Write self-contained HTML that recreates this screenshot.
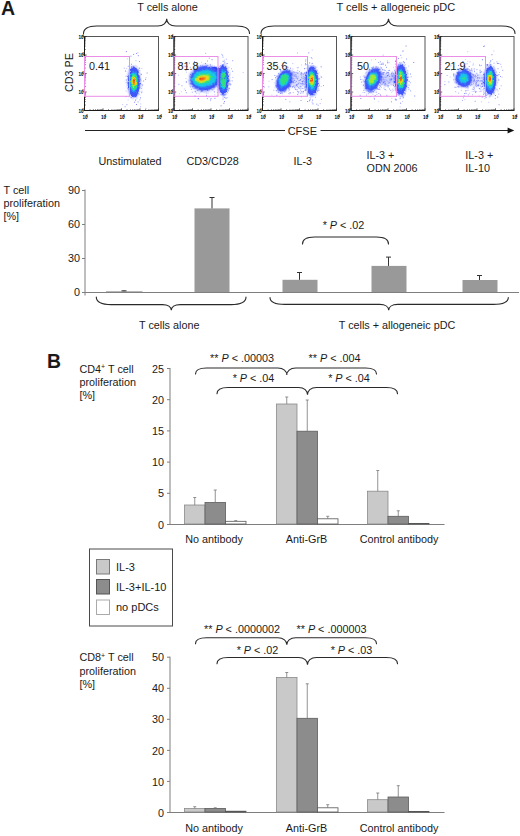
<!DOCTYPE html>
<html lang="en"><head><meta charset="utf-8"><title>Figure</title>
<style>
html,body{margin:0;padding:0;background:#fff;}
body{width:520px;height:836px;overflow:hidden;}
svg{display:block;font-family:"Liberation Sans", Arial, Helvetica, sans-serif;}
text{fill:#1a1a1a;}
.t11{font-size:10.8px;}
.num{font-size:10.6px;}
.tk{font-size:4.6px;fill:#000;font-weight:bold;}
.ax{stroke:#7f7f7f;stroke-width:1;fill:none;}
.br{stroke:#2a2a2a;stroke-width:1.1;fill:none;stroke-linecap:round;}
.gate{stroke:#ea8ee8;stroke-width:1;fill:none;}
.box{stroke:#555;stroke-width:1;fill:none;}
.eb{stroke:#333;stroke-width:1;fill:none;}
.ebg{stroke:#777;stroke-width:0.8;fill:none;}
</style></head><body>
<svg width="520" height="836" viewBox="0 0 520 836">
<defs>
<filter id="b1" x="-50%" y="-50%" width="200%" height="200%"><feGaussianBlur stdDeviation="0.65" result="bl"/><feTurbulence type="fractalNoise" baseFrequency="0.42" numOctaves="2" seed="3" result="n"/><feDisplacementMap in="bl" in2="n" scale="3.2" xChannelSelector="R" yChannelSelector="G"/></filter>
<filter id="b2" x="-50%" y="-50%" width="200%" height="200%"><feGaussianBlur stdDeviation="0.8"/></filter>
<filter id="b3" x="-50%" y="-50%" width="200%" height="200%"><feGaussianBlur stdDeviation="1.3" result="bl"/><feTurbulence type="fractalNoise" baseFrequency="0.5" numOctaves="2" seed="8" result="n"/><feDisplacementMap in="bl" in2="n" scale="4" xChannelSelector="R" yChannelSelector="G"/></filter>
</defs>
<rect width="520" height="836" fill="#fff"/>

<text x="0.9" y="15.3" font-size="19.5" font-weight="bold" fill="#000">A</text>
<text x="46.9" y="367.5" font-size="19.4" font-weight="bold" fill="#000">B</text>
<path class="br" d="M83.5,33.5 C83.5,28.85 88.05,26 96.5,26 L157.7,26 C163.55,26 166.7,22.76 166.7,18.8 C166.7,22.76 169.85,26 175.7,26 L236.5,26 C244.95,26 249.5,28.85 249.5,33.5"/>
<path class="br" d="M261,33.5 C261,28.85 265.55,26 274,26 L379.5,26 C385.35,26 388.5,22.76 388.5,18.8 C388.5,22.76 391.65,26 397.5,26 L502,26 C510.45,26 515,28.85 515,33.5"/>
<text x="167.5" y="11" class="t11" text-anchor="middle" >T cells alone</text>
<text x="395.8" y="11" class="t11" text-anchor="middle" style="font-size:11px">T cells + allogeneic pDC</text>
<clipPath id="cp0"><rect x="85.0" y="37.0" width="73" height="73.0"/></clipPath><g clip-path="url(#cp0)">
<path d="M129.7,81.5h.9M129.9,89.5h.9M137.6,93.7h.9M134.9,90.7h.9M131.1,67.0h.9M130.5,56.2h.9M134.2,102.2h.9M131.2,85.8h.9M128.2,83.0h.9M125.0,71.1h.9M138.0,71.8h.9M139.2,68.2h.9M128.9,89.4h.9M135.4,89.6h.9M130.9,86.2h.9M131.0,74.0h.9M131.8,90.0h.9M142.2,85.0h.9M136.6,74.1h.9M131.8,91.7h.9M145.2,79.3h.9M133.2,54.4h.9M135.0,100.1h.9M131.6,66.7h.9M136.2,53.5h.9M134.7,73.8h.9M125.7,96.6h.9M140.1,97.9h.9M137.8,55.7h.9M125.9,51.6h.9M137.6,82.8h.9M140.8,74.3h.9M136.1,104.5h.9" stroke="#2a2af0" stroke-width="0.9" opacity="0.7" fill="none"/>
<path d="M129.9,79.7h.9M134.8,94.6h.9M127.8,66.3h.9M132.5,95.7h.9M136.2,69.0h.9M137.6,101.9h.9M129.5,93.2h.9M137.8,72.2h.9M133.1,66.9h.9M139.0,77.4h.9M133.2,90.2h.9M130.1,84.3h.9M134.4,71.8h.9M126.5,104.7h.9M127.6,83.5h.9M124.7,106.7h.9M125.8,80.0h.9M137.8,75.0h.9M130.2,89.4h.9M132.2,88.5h.9M135.7,88.2h.9M136.9,87.5h.9M143.2,81.0h.9M137.5,70.1h.9M146.7,73.0h.9M138.9,78.4h.9M139.1,61.5h.9M130.5,97.0h.9M130.7,92.8h.9" stroke="#3b4cff" stroke-width="0.9" opacity="0.7" fill="none"/>
<path d="M130.8,97.5h.9M138.4,84.7h.9M129.8,75.9h.9M145.4,108.4h.9M123.8,68.1h.9M130.1,83.6h.9M131.3,87.7h.9M136.2,69.6h.9M131.3,78.0h.9M131.1,64.2h.9M141.2,88.4h.9M130.5,94.0h.9M129.1,84.6h.9M136.5,86.8h.9M140.1,106.8h.9M136.8,91.4h.9M135.8,90.2h.9M135.5,60.7h.9M137.3,83.6h.9M137.5,83.6h.9M140.4,80.8h.9M135.5,93.4h.9M141.2,92.7h.9M133.9,67.3h.9M136.5,93.9h.9M139.4,99.9h.9M140.1,79.1h.9M133.9,91.8h.9" stroke="#6674ff" stroke-width="0.9" opacity="0.7" fill="none"/>
<path d="M141.5,91.3h.9M137.0,87.0h.9M130.2,86.7h.9M145.6,77.6h.9M129.6,78.7h.9M128.6,86.0h.9M140.6,86.2h.9M125.9,68.6h.9M132.6,71.5h.9M126.9,58.8h.9M136.0,91.1h.9M136.0,87.6h.9M141.4,92.4h.9M137.5,73.9h.9M140.2,103.9h.9M137.5,52.6h.9M139.4,87.6h.9M136.2,91.2h.9M136.6,75.3h.9M130.0,73.6h.9M127.7,99.9h.9M125.6,76.2h.9M137.8,80.7h.9M129.6,93.9h.9M134.7,95.5h.9M141.4,68.5h.9M135.1,72.8h.9M122.2,104.5h.9M125.6,91.1h.9M128.5,73.8h.9" stroke="#9a9cff" stroke-width="0.9" opacity="0.7" fill="none"/>
<ellipse transform="rotate(0 133.9 82)" filter="url(#b3)" cx="133.9" cy="82" rx="6.72" ry="16.50" fill="#4a5cff" opacity="0.55"/><ellipse transform="rotate(0 133.9 82)" filter="url(#b2)" cx="133.9" cy="82" rx="4.44" ry="11.70" fill="#3348fa"/><g transform="rotate(0 133.9 82)" filter="url(#b1)"><ellipse cx="133.90" cy="82.00" rx="6.00" ry="15.00" fill="#3f55fa"/><ellipse cx="133.90" cy="81.74" rx="4.44" ry="11.10" fill="#2a86f4"/><ellipse cx="133.90" cy="81.62" rx="3.72" ry="9.30" fill="#19c8e6"/><ellipse cx="133.90" cy="81.50" rx="3.00" ry="7.50" fill="#2fe07a"/><ellipse cx="133.90" cy="81.39" rx="2.34" ry="5.85" fill="#a6ea2e"/><ellipse cx="133.90" cy="81.29" rx="1.74" ry="4.35" fill="#f2d21c"/><ellipse cx="133.90" cy="81.20" rx="1.20" ry="3.00" fill="#f48a18"/><ellipse cx="133.90" cy="81.11" rx="0.66" ry="1.65" fill="#ee3312"/></g>
</g>
<rect class="box" x="84.5" y="36.5" width="74" height="74.0"/>
<path d="M84.5,110.5h2.2M84.5,110.5v-2.2M84.5,105.0h1.2M90.0,110.5v-1.2M84.5,101.6h1.2M93.4,110.5v-1.2M84.5,99.4h1.2M95.6,110.5v-1.2M84.5,97.5h1.2M97.5,110.5v-1.2M84.5,96.1h1.2M98.9,110.5v-1.2M84.5,94.8h1.2M100.2,110.5v-1.2M84.5,93.8h1.2M101.2,110.5v-1.2M84.5,92.9h1.2M102.1,110.5v-1.2M84.5,92.0h2.2M103.0,110.5v-2.2M84.5,86.5h1.2M108.5,110.5v-1.2M84.5,83.1h1.2M111.9,110.5v-1.2M84.5,80.9h1.2M114.1,110.5v-1.2M84.5,79.0h1.2M116.0,110.5v-1.2M84.5,77.6h1.2M117.4,110.5v-1.2M84.5,76.3h1.2M118.7,110.5v-1.2M84.5,75.3h1.2M119.7,110.5v-1.2M84.5,74.4h1.2M120.6,110.5v-1.2M84.5,73.5h2.2M121.5,110.5v-2.2M84.5,68.0h1.2M127.0,110.5v-1.2M84.5,64.6h1.2M130.4,110.5v-1.2M84.5,62.4h1.2M132.6,110.5v-1.2M84.5,60.5h1.2M134.4,110.5v-1.2M84.5,59.1h1.2M135.9,110.5v-1.2M84.5,57.8h1.2M137.2,110.5v-1.2M84.5,56.8h1.2M138.2,110.5v-1.2M84.5,55.9h1.2M139.1,110.5v-1.2M84.5,55.0h2.2M140.0,110.5v-2.2M84.5,49.5h1.2M145.6,110.5v-1.2M84.5,46.1h1.2M148.9,110.5v-1.2M84.5,43.9h1.2M151.1,110.5v-1.2M84.5,42.0h1.2M152.9,110.5v-1.2M84.5,40.6h1.2M154.4,110.5v-1.2M84.5,39.3h1.2M155.7,110.5v-1.2M84.5,38.3h1.2M156.7,110.5v-1.2M84.5,37.4h1.2M157.6,110.5v-1.2M84.5,36.5h2.2M158.5,110.5v-2.2" stroke="#222" stroke-width="0.7" fill="none"/>
<path d="M84.5,36.5V110.5H158.5" stroke="#1a1a1a" stroke-width="1" fill="none"/>
<text class="tk" x="83.7" y="112.7" text-anchor="end">10<tspan dx="-1.5" dy="-2" style="font-size:2.8px">0</tspan></text>
<text class="tk" x="85.1" y="119.1" text-anchor="middle">10<tspan dx="-1.5" dy="-2" style="font-size:2.8px">0</tspan></text>
<text class="tk" x="83.7" y="94.2" text-anchor="end">10<tspan dx="-1.5" dy="-2" style="font-size:2.8px">1</tspan></text>
<text class="tk" x="103.6" y="119.1" text-anchor="middle">10<tspan dx="-1.5" dy="-2" style="font-size:2.8px">1</tspan></text>
<text class="tk" x="83.7" y="75.7" text-anchor="end">10<tspan dx="-1.5" dy="-2" style="font-size:2.8px">2</tspan></text>
<text class="tk" x="122.1" y="119.1" text-anchor="middle">10<tspan dx="-1.5" dy="-2" style="font-size:2.8px">2</tspan></text>
<text class="tk" x="83.7" y="57.2" text-anchor="end">10<tspan dx="-1.5" dy="-2" style="font-size:2.8px">3</tspan></text>
<text class="tk" x="140.6" y="119.1" text-anchor="middle">10<tspan dx="-1.5" dy="-2" style="font-size:2.8px">3</tspan></text>
<text class="tk" x="83.7" y="38.7" text-anchor="end">10<tspan dx="-1.5" dy="-2" style="font-size:2.8px">4</tspan></text>
<text class="tk" x="159.1" y="119.1" text-anchor="middle">10<tspan dx="-1.5" dy="-2" style="font-size:2.8px">4</tspan></text>
<rect class="gate" x="84.5" y="56.5" width="45.0" height="39.8"/>
<text x="89.0" y="69.9" class="t11" text-anchor="start" >0.41</text>
<clipPath id="cp1"><rect x="174.5" y="37.0" width="73" height="73.0"/></clipPath><g clip-path="url(#cp1)">
<path d="M210.0,84.2h.9M197.7,77.4h.9M216.1,85.9h.9M214.2,73.9h.9M215.5,78.8h.9M204.5,70.7h.9M198.8,71.6h.9M213.8,78.5h.9M209.9,64.8h.9M216.3,80.3h.9M195.1,82.0h.9M190.1,83.9h.9M199.6,85.6h.9M197.8,78.6h.9M208.8,58.2h.9M204.5,68.0h.9M195.6,77.5h.9M216.3,77.0h.9M209.6,74.1h.9M207.7,76.1h.9M200.2,84.8h.9M198.0,98.7h.9M201.5,84.7h.9M221.9,80.1h.9M194.6,91.3h.9M212.4,74.6h.9M223.6,94.3h.9M200.9,68.5h.9M207.9,78.1h.9" stroke="#2a2af0" stroke-width="0.9" opacity="0.6" fill="none"/>
<path d="M199.1,83.7h.9M191.9,83.0h.9M218.9,86.3h.9M203.2,80.0h.9M194.0,83.6h.9M208.8,72.3h.9M221.7,72.6h.9M227.3,71.7h.9M194.9,91.9h.9M223.1,87.8h.9M226.5,89.9h.9M205.2,81.6h.9M201.6,80.4h.9M215.0,76.5h.9M195.3,65.4h.9M208.6,71.4h.9M209.1,67.3h.9M210.3,78.4h.9M218.0,77.5h.9M219.1,81.6h.9M213.4,78.0h.9M211.6,73.2h.9M197.6,98.6h.9M207.1,61.0h.9M216.7,82.0h.9M190.9,89.3h.9M207.1,80.2h.9M224.3,74.4h.9M191.8,92.2h.9M209.4,86.3h.9M207.1,80.2h.9M203.1,76.1h.9M199.9,76.2h.9" stroke="#3b4cff" stroke-width="0.9" opacity="0.6" fill="none"/>
<path d="M217.9,81.4h.9M216.9,92.6h.9M192.1,84.2h.9M199.7,85.7h.9M196.2,93.2h.9M226.7,77.3h.9M190.0,87.0h.9M209.2,86.3h.9M193.4,80.2h.9M218.5,75.0h.9M223.9,84.1h.9M199.6,79.7h.9M190.5,85.9h.9M224.0,80.8h.9M207.4,88.9h.9M212.1,86.1h.9M195.0,84.1h.9M223.7,71.4h.9M221.9,93.3h.9M200.5,86.5h.9M225.6,80.0h.9M220.9,68.0h.9M210.9,79.5h.9M191.9,83.7h.9M211.2,74.4h.9" stroke="#6674ff" stroke-width="0.9" opacity="0.6" fill="none"/>
<path d="M225.2,79.5h.9M201.0,75.0h.9M190.7,80.0h.9M210.9,83.4h.9M225.5,88.4h.9M201.1,85.8h.9M207.5,84.8h.9M200.0,87.3h.9M199.3,78.3h.9M197.6,81.5h.9M204.8,63.9h.9M202.4,84.5h.9M217.5,79.6h.9M214.4,94.6h.9M220.6,79.6h.9M221.4,65.4h.9M216.0,71.5h.9M203.7,92.0h.9M211.2,89.3h.9M213.9,71.5h.9M217.7,82.8h.9M215.5,82.4h.9M190.7,77.4h.9M226.2,87.6h.9M208.5,97.0h.9M202.0,85.7h.9M201.0,74.4h.9M228.0,85.7h.9M200.9,89.1h.9M197.2,66.0h.9M225.7,67.0h.9M217.8,77.5h.9M227.1,92.5h.9" stroke="#9a9cff" stroke-width="0.9" opacity="0.6" fill="none"/>
<g filter="url(#b1)"><ellipse cx="213" cy="74" rx="10" ry="7" fill="#2431ee" transform="rotate(-8 213 74)"/></g>
<path d="M223.6,68.5h.9M222.6,99.0h.9M226.4,81.3h.9M219.9,83.0h.9M226.6,85.2h.9M220.6,77.1h.9M221.5,89.3h.9M218.5,83.0h.9M224.9,66.7h.9M219.3,71.5h.9M221.8,69.5h.9M225.1,87.5h.9M219.2,86.0h.9M228.2,79.0h.9M220.6,105.8h.9M222.8,95.8h.9M219.7,83.9h.9M225.8,75.2h.9M223.4,103.3h.9M226.1,85.9h.9M223.9,97.4h.9M226.0,72.5h.9M224.0,101.6h.9M229.2,84.0h.9M225.6,73.9h.9M214.5,98.3h.9M222.7,61.4h.9" stroke="#2a2af0" stroke-width="0.9" opacity="0.7" fill="none"/>
<path d="M232.3,60.7h.9M220.1,74.1h.9M220.4,68.9h.9M217.3,77.4h.9M226.9,63.6h.9M228.7,88.3h.9M226.7,71.4h.9M222.1,88.3h.9M222.5,57.1h.9M223.2,89.8h.9M219.1,68.5h.9M232.2,71.3h.9M228.9,80.9h.9M219.1,89.4h.9M218.5,76.2h.9M225.2,86.3h.9M222.2,94.5h.9M225.2,75.0h.9M225.2,69.4h.9M225.6,98.1h.9M231.7,80.9h.9M220.9,72.5h.9M222.2,55.2h.9M230.3,84.0h.9M218.7,77.3h.9M227.7,79.1h.9M223.5,71.7h.9M224.8,66.6h.9M227.6,75.3h.9M226.4,89.6h.9" stroke="#3b4cff" stroke-width="0.9" opacity="0.7" fill="none"/>
<path d="M226.4,83.3h.9M225.5,94.8h.9M225.5,98.0h.9M226.5,83.9h.9M231.0,68.8h.9M225.9,59.2h.9M224.2,69.0h.9M218.5,83.3h.9M223.7,71.7h.9M223.2,91.1h.9M220.4,74.1h.9M213.0,124.8h.9M230.3,84.8h.9M225.9,63.8h.9M217.7,89.8h.9M220.9,84.1h.9M220.2,68.2h.9M221.4,70.9h.9M223.1,71.0h.9M225.9,86.5h.9M228.2,89.0h.9M224.4,71.3h.9M225.1,89.8h.9" stroke="#6674ff" stroke-width="0.9" opacity="0.7" fill="none"/>
<path d="M228.5,67.6h.9M218.5,69.0h.9M216.6,67.2h.9M227.7,90.9h.9M222.7,70.9h.9M225.5,85.3h.9M224.0,61.9h.9M222.0,68.7h.9M228.3,75.7h.9M225.8,82.1h.9M222.2,89.5h.9M227.6,89.8h.9M221.2,54.4h.9M226.2,75.0h.9M218.6,80.3h.9M212.9,87.2h.9M224.6,62.1h.9M227.2,97.6h.9M217.4,81.9h.9M228.1,90.6h.9M227.3,85.6h.9M218.9,77.0h.9M222.7,88.1h.9M220.3,81.9h.9M225.3,92.0h.9M229.1,88.7h.9M224.3,69.8h.9M218.4,89.0h.9M223.8,67.9h.9M225.3,91.2h.9" stroke="#9a9cff" stroke-width="0.9" opacity="0.7" fill="none"/>
<ellipse transform="rotate(0 223.2 80)" filter="url(#b3)" cx="223.2" cy="80" rx="5.82" ry="15.95" fill="#4a5cff" opacity="0.55"/><ellipse transform="rotate(0 223.2 80)" filter="url(#b2)" cx="223.2" cy="80" rx="3.85" ry="11.31" fill="#3348fa"/><g transform="rotate(0 223.2 80)" filter="url(#b1)"><ellipse cx="223.20" cy="80.00" rx="5.20" ry="14.50" fill="#3f55fa"/><ellipse cx="223.20" cy="80.00" rx="3.85" ry="10.73" fill="#2a86f4"/><ellipse cx="223.20" cy="80.00" rx="3.22" ry="8.99" fill="#19c8e6"/><ellipse cx="223.20" cy="80.00" rx="2.60" ry="7.25" fill="#2fe07a"/></g>
<path d="M207.4,65.5h.9M204.3,66.9h.9M203.2,70.4h.9M197.9,74.7h.9M214.1,76.8h.9M214.4,66.7h.9M217.2,76.9h.9M220.0,65.8h.9M196.9,84.9h.9M210.6,98.7h.9M207.0,71.8h.9M194.1,61.8h.9M181.6,65.4h.9M211.6,59.7h.9M223.9,78.4h.9M186.7,66.4h.9M200.8,90.4h.9M192.2,86.7h.9M200.1,67.7h.9M224.7,78.0h.9M209.4,83.9h.9M185.8,81.9h.9M206.3,66.9h.9M184.6,66.2h.9M210.5,72.6h.9M190.0,74.5h.9M219.9,72.5h.9M213.9,91.9h.9M195.1,71.6h.9M197.1,86.2h.9M195.9,64.9h.9M218.2,67.9h.9M197.3,65.7h.9" stroke="#2a2af0" stroke-width="0.9" opacity="0.7" fill="none"/>
<path d="M221.0,85.0h.9M193.9,70.6h.9M225.7,72.8h.9M201.1,91.2h.9M212.1,82.7h.9M181.5,85.7h.9M210.0,100.1h.9M211.2,85.2h.9M229.4,74.8h.9M197.8,81.6h.9M208.1,88.2h.9M221.7,78.8h.9M209.1,71.1h.9M196.1,83.3h.9M206.0,95.3h.9M211.6,75.0h.9M180.4,63.1h.9M200.2,65.9h.9M194.9,96.3h.9M217.6,69.0h.9M217.4,83.0h.9M204.5,85.3h.9M185.8,92.7h.9M198.4,89.6h.9M198.8,67.4h.9M218.3,76.1h.9M209.1,85.3h.9M178.4,84.3h.9M206.9,98.6h.9M198.4,67.6h.9M213.4,80.8h.9M208.6,84.8h.9M194.3,96.2h.9M188.9,63.1h.9M205.0,63.5h.9M215.4,67.5h.9M218.4,74.8h.9M185.4,70.3h.9M185.1,90.4h.9M208.1,87.1h.9M196.4,84.2h.9" stroke="#3b4cff" stroke-width="0.9" opacity="0.7" fill="none"/>
<path d="M219.6,75.2h.9M215.7,79.1h.9M218.3,76.1h.9M197.4,90.0h.9M209.1,89.0h.9M205.8,66.3h.9M192.9,69.2h.9M197.0,72.2h.9M209.2,85.1h.9M185.0,69.5h.9M220.8,79.6h.9M194.1,70.5h.9M202.2,65.8h.9M202.0,85.4h.9M193.9,62.1h.9M210.8,67.0h.9M218.6,88.4h.9M232.4,77.4h.9M212.7,83.8h.9M201.2,72.8h.9M223.8,60.2h.9M216.6,72.5h.9M209.3,67.4h.9M211.7,80.8h.9M218.5,73.2h.9M188.7,80.9h.9M214.2,81.3h.9M186.0,82.2h.9M196.9,90.6h.9M207.3,86.8h.9M207.0,88.6h.9M202.2,84.8h.9M206.2,71.2h.9M228.1,78.4h.9M205.2,53.3h.9M189.8,67.4h.9M193.0,83.6h.9M185.8,66.6h.9M194.5,72.6h.9" stroke="#6674ff" stroke-width="0.9" opacity="0.7" fill="none"/>
<path d="M178.1,75.2h.9M206.1,96.5h.9M200.8,84.3h.9M179.0,93.7h.9M207.4,85.0h.9M192.4,74.8h.9M196.0,73.2h.9M219.3,89.6h.9M183.9,89.0h.9M207.2,89.9h.9M219.2,76.7h.9M192.2,77.1h.9M212.2,71.1h.9M208.3,72.4h.9M201.1,62.3h.9M189.5,76.6h.9M210.6,72.2h.9M212.7,77.6h.9M215.7,66.5h.9M172.9,89.4h.9M180.9,91.7h.9M209.2,86.8h.9M194.9,71.8h.9M228.6,82.4h.9M186.1,72.2h.9M215.1,83.0h.9M209.8,71.6h.9M242.7,72.5h.9M212.8,74.3h.9M221.2,82.6h.9M214.2,69.3h.9M206.1,93.2h.9M195.8,88.6h.9M185.4,78.5h.9M204.1,72.1h.9M198.6,93.8h.9M202.5,67.8h.9M198.2,66.5h.9M209.7,69.8h.9M200.5,89.4h.9M217.6,95.7h.9M213.8,81.8h.9M189.5,81.0h.9M217.1,87.0h.9M192.5,86.7h.9M224.4,85.5h.9M207.6,93.2h.9" stroke="#9a9cff" stroke-width="0.9" opacity="0.7" fill="none"/>
<ellipse transform="rotate(-10 205 78.3)" filter="url(#b3)" cx="205" cy="78.3" rx="16.24" ry="13.20" fill="#4a5cff" opacity="0.55"/><ellipse transform="rotate(-10 205 78.3)" filter="url(#b2)" cx="205" cy="78.3" rx="10.73" ry="9.36" fill="#3348fa"/><g transform="rotate(-10 205 78.3)" filter="url(#b1)"><ellipse cx="205.00" cy="78.30" rx="14.50" ry="12.00" fill="#3f55fa"/><ellipse cx="204.60" cy="78.30" rx="13.05" ry="9.36" fill="#2a86f4"/><ellipse cx="204.32" cy="78.30" rx="12.04" ry="7.92" fill="#19c8e6"/><ellipse cx="203.48" cy="78.30" rx="8.99" ry="5.16" fill="#2fe07a"/><ellipse cx="203.00" cy="78.30" rx="7.25" ry="3.84" fill="#a6ea2e"/><ellipse cx="202.60" cy="78.30" rx="5.80" ry="2.70" fill="#f2d21c"/><ellipse cx="202.08" cy="78.30" rx="3.92" ry="1.80" fill="#f48a18"/><ellipse cx="201.56" cy="78.30" rx="2.03" ry="1.02" fill="#ee3312"/></g>
</g>
<rect class="box" x="174" y="36.5" width="74" height="74.0"/>
<path d="M174,110.5h2.2M174.0,110.5v-2.2M174,105.0h1.2M179.6,110.5v-1.2M174,101.6h1.2M182.9,110.5v-1.2M174,99.4h1.2M185.1,110.5v-1.2M174,97.5h1.2M186.9,110.5v-1.2M174,96.1h1.2M188.4,110.5v-1.2M174,94.8h1.2M189.7,110.5v-1.2M174,93.8h1.2M190.7,110.5v-1.2M174,92.9h1.2M191.6,110.5v-1.2M174,92.0h2.2M192.5,110.5v-2.2M174,86.5h1.2M198.1,110.5v-1.2M174,83.1h1.2M201.4,110.5v-1.2M174,80.9h1.2M203.6,110.5v-1.2M174,79.0h1.2M205.4,110.5v-1.2M174,77.6h1.2M206.9,110.5v-1.2M174,76.3h1.2M208.2,110.5v-1.2M174,75.3h1.2M209.2,110.5v-1.2M174,74.4h1.2M210.1,110.5v-1.2M174,73.5h2.2M211.0,110.5v-2.2M174,68.0h1.2M216.6,110.5v-1.2M174,64.6h1.2M219.9,110.5v-1.2M174,62.4h1.2M222.1,110.5v-1.2M174,60.5h1.2M223.9,110.5v-1.2M174,59.1h1.2M225.4,110.5v-1.2M174,57.8h1.2M226.7,110.5v-1.2M174,56.8h1.2M227.7,110.5v-1.2M174,55.9h1.2M228.6,110.5v-1.2M174,55.0h2.2M229.5,110.5v-2.2M174,49.5h1.2M235.1,110.5v-1.2M174,46.1h1.2M238.4,110.5v-1.2M174,43.9h1.2M240.6,110.5v-1.2M174,42.0h1.2M242.4,110.5v-1.2M174,40.6h1.2M243.9,110.5v-1.2M174,39.3h1.2M245.2,110.5v-1.2M174,38.3h1.2M246.2,110.5v-1.2M174,37.4h1.2M247.1,110.5v-1.2M174,36.5h2.2M248.0,110.5v-2.2" stroke="#222" stroke-width="0.7" fill="none"/>
<path d="M174,36.5V110.5H248" stroke="#1a1a1a" stroke-width="1" fill="none"/>
<text class="tk" x="173.2" y="112.7" text-anchor="end">10<tspan dx="-1.5" dy="-2" style="font-size:2.8px">0</tspan></text>
<text class="tk" x="174.6" y="119.1" text-anchor="middle">10<tspan dx="-1.5" dy="-2" style="font-size:2.8px">0</tspan></text>
<text class="tk" x="173.2" y="94.2" text-anchor="end">10<tspan dx="-1.5" dy="-2" style="font-size:2.8px">1</tspan></text>
<text class="tk" x="193.1" y="119.1" text-anchor="middle">10<tspan dx="-1.5" dy="-2" style="font-size:2.8px">1</tspan></text>
<text class="tk" x="173.2" y="75.7" text-anchor="end">10<tspan dx="-1.5" dy="-2" style="font-size:2.8px">2</tspan></text>
<text class="tk" x="211.6" y="119.1" text-anchor="middle">10<tspan dx="-1.5" dy="-2" style="font-size:2.8px">2</tspan></text>
<text class="tk" x="173.2" y="57.2" text-anchor="end">10<tspan dx="-1.5" dy="-2" style="font-size:2.8px">3</tspan></text>
<text class="tk" x="230.1" y="119.1" text-anchor="middle">10<tspan dx="-1.5" dy="-2" style="font-size:2.8px">3</tspan></text>
<text class="tk" x="173.2" y="38.7" text-anchor="end">10<tspan dx="-1.5" dy="-2" style="font-size:2.8px">4</tspan></text>
<text class="tk" x="248.6" y="119.1" text-anchor="middle">10<tspan dx="-1.5" dy="-2" style="font-size:2.8px">4</tspan></text>
<rect class="gate" x="174" y="56.5" width="44" height="39.8"/>
<text x="177.5" y="69.9" class="t11" text-anchor="start" >81.8</text>
<clipPath id="cp2"><rect x="263.0" y="37.0" width="73" height="73.0"/></clipPath><g clip-path="url(#cp2)">
<path d="M303.6,78.9h.9M301.2,72.9h.9M304.5,84.8h.9M304.8,90.4h.9M293.9,75.2h.9M300.6,100.5h.9M302.7,81.1h.9M290.0,92.9h.9M288.9,71.4h.9M287.3,72.9h.9M295.9,85.1h.9M305.0,63.4h.9M300.8,91.8h.9M293.5,72.7h.9M300.5,88.8h.9M306.6,85.0h.9M308.0,70.3h.9M297.6,67.7h.9M300.3,93.4h.9M291.4,78.4h.9M291.2,78.8h.9M301.6,83.5h.9M294.9,89.4h.9M306.9,71.3h.9M304.9,64.8h.9M305.8,86.6h.9M299.8,86.7h.9M296.1,85.0h.9M289.8,86.6h.9M300.0,79.5h.9M297.3,91.5h.9M307.8,92.8h.9M305.1,78.3h.9M288.3,88.7h.9M302.6,78.0h.9M298.1,83.7h.9M290.3,85.8h.9M302.6,92.9h.9M298.0,92.8h.9" stroke="#2a2af0" stroke-width="0.9" opacity="0.6" fill="none"/>
<path d="M293.7,76.3h.9M293.2,86.0h.9M300.5,86.8h.9M301.6,81.5h.9M301.0,96.7h.9M287.9,83.8h.9M295.5,75.4h.9M301.8,83.3h.9M308.1,79.8h.9M295.9,81.4h.9M290.5,81.7h.9M307.0,80.3h.9M304.8,83.2h.9M308.4,72.9h.9M294.2,80.4h.9M298.2,87.7h.9M300.2,83.6h.9M297.1,79.1h.9M305.3,77.2h.9M295.4,74.5h.9M296.6,72.7h.9M303.2,84.1h.9M300.9,75.0h.9M309.5,86.0h.9M294.1,72.1h.9M302.8,76.3h.9M291.6,81.0h.9M301.0,77.3h.9M291.8,73.5h.9M289.0,85.5h.9M296.3,76.8h.9M293.0,81.8h.9M304.6,89.1h.9M287.9,79.7h.9M291.6,82.3h.9M288.2,83.8h.9M301.7,91.7h.9M292.1,86.6h.9M309.7,70.5h.9M287.8,85.8h.9M308.5,78.7h.9M306.9,84.1h.9M297.3,78.4h.9M297.4,73.5h.9" stroke="#3b4cff" stroke-width="0.9" opacity="0.6" fill="none"/>
<path d="M298.6,91.8h.9M307.4,78.7h.9M293.9,80.3h.9M287.1,87.2h.9M302.1,85.0h.9M300.7,72.7h.9M292.9,71.6h.9M296.9,84.1h.9M300.1,80.0h.9M300.2,90.3h.9M296.5,89.6h.9M289.8,84.2h.9M303.9,81.9h.9M301.5,78.9h.9M292.8,92.6h.9M306.8,76.5h.9M309.4,83.6h.9M296.9,86.6h.9M305.8,82.7h.9M306.2,79.6h.9M305.7,87.6h.9M292.4,63.6h.9M292.9,81.1h.9M292.4,68.9h.9M299.0,71.6h.9M300.0,74.2h.9M288.0,80.5h.9M305.1,86.6h.9M308.8,75.0h.9M307.9,90.3h.9M296.0,78.0h.9M288.1,72.9h.9M308.6,90.9h.9M289.9,86.2h.9" stroke="#6674ff" stroke-width="0.9" opacity="0.6" fill="none"/>
<path d="M296.7,67.8h.9M306.0,73.7h.9M305.2,79.3h.9M294.6,78.4h.9M301.1,65.0h.9M302.7,83.6h.9M297.5,91.8h.9M305.9,83.2h.9M287.9,91.0h.9M297.9,73.0h.9M291.9,87.5h.9M292.6,82.3h.9M303.4,88.5h.9M287.3,78.3h.9M288.8,69.8h.9M300.0,80.3h.9M287.0,80.4h.9M293.3,73.8h.9M295.0,89.2h.9M305.3,85.9h.9M298.0,76.9h.9M309.9,78.5h.9M298.9,82.9h.9M309.8,81.3h.9M309.8,97.4h.9M295.1,82.4h.9M304.4,90.6h.9M289.4,78.4h.9M291.5,81.9h.9M289.2,94.0h.9M301.5,74.8h.9M301.4,84.3h.9M288.3,85.1h.9" stroke="#9a9cff" stroke-width="0.9" opacity="0.6" fill="none"/>
<ellipse cx="297" cy="80" rx="11" ry="8" fill="#5a6cff" opacity="0.22" filter="url(#b3)"/>
<ellipse cx="281.5" cy="87" rx="3.6" ry="5.5" fill="#4a5cff" opacity="0.8" filter="url(#b3)"/>
<path d="M282.3,75.2h.9M289.2,86.3h.9M275.9,90.8h.9M284.4,71.9h.9M297.3,94.4h.9M286.1,87.1h.9M298.7,80.5h.9M286.2,75.0h.9M276.9,86.3h.9M289.2,79.0h.9M284.2,91.9h.9M285.4,90.6h.9M290.5,74.1h.9M275.6,83.9h.9M286.5,84.0h.9M280.3,93.5h.9M277.3,82.7h.9M285.0,75.3h.9M276.2,86.7h.9M280.3,77.6h.9M290.2,73.0h.9M283.3,74.1h.9M289.1,82.6h.9M271.7,79.6h.9M276.4,95.3h.9M290.1,68.2h.9" stroke="#2a2af0" stroke-width="0.9" opacity="0.7" fill="none"/>
<path d="M291.8,72.7h.9M287.0,69.6h.9M293.4,82.8h.9M277.2,88.9h.9M284.9,88.2h.9M288.3,84.3h.9M281.3,65.5h.9M288.3,85.9h.9M288.9,90.0h.9M280.1,70.9h.9M279.2,90.1h.9M288.4,85.7h.9M278.4,86.1h.9M284.9,72.3h.9M296.7,84.9h.9M278.3,92.5h.9M286.9,67.0h.9M279.5,75.0h.9M285.4,99.4h.9M289.5,75.8h.9M276.5,87.6h.9M287.8,82.2h.9M278.1,81.8h.9M291.1,81.1h.9M278.6,87.1h.9M294.2,87.7h.9M291.3,72.3h.9M288.9,84.9h.9M284.7,74.4h.9M279.1,83.0h.9M283.7,88.6h.9M284.1,73.7h.9M274.4,75.5h.9M281.6,76.2h.9M295.4,76.6h.9M287.6,83.1h.9M276.6,76.5h.9M275.1,77.7h.9M291.5,79.8h.9" stroke="#3b4cff" stroke-width="0.9" opacity="0.7" fill="none"/>
<path d="M292.8,74.2h.9M278.7,87.1h.9M264.1,87.1h.9M286.3,86.1h.9M279.1,77.7h.9M275.9,80.9h.9M278.1,73.6h.9M277.9,79.4h.9M283.5,87.0h.9M280.0,89.1h.9M279.6,84.7h.9M297.1,53.0h.9M282.4,90.6h.9M289.2,92.9h.9M289.4,101.8h.9M273.4,90.3h.9M283.9,74.1h.9M279.3,83.9h.9M279.9,90.6h.9M277.4,89.6h.9M283.7,71.0h.9M276.9,64.5h.9M293.2,78.7h.9M268.4,86.8h.9M288.1,85.6h.9M294.7,86.0h.9M279.6,82.9h.9M295.4,72.4h.9M291.4,76.8h.9M296.6,90.0h.9M283.7,70.0h.9M285.3,71.5h.9M288.1,83.0h.9" stroke="#6674ff" stroke-width="0.9" opacity="0.7" fill="none"/>
<path d="M288.8,81.0h.9M283.6,85.9h.9M279.5,97.0h.9M268.7,81.3h.9M297.2,70.4h.9M283.4,75.3h.9M286.3,89.9h.9M287.2,83.2h.9M294.7,74.1h.9M285.3,73.9h.9M291.9,71.0h.9M277.9,73.7h.9M279.7,85.9h.9M293.1,86.5h.9M284.0,61.3h.9M295.6,78.0h.9M289.2,75.9h.9M288.0,93.7h.9M262.9,94.5h.9M273.4,96.7h.9M271.4,95.0h.9M298.5,82.2h.9M279.4,76.2h.9M288.2,67.3h.9M290.3,78.9h.9M278.2,85.5h.9M283.9,86.8h.9M283.3,86.1h.9M281.3,71.8h.9M281.8,87.7h.9M289.5,76.1h.9M283.1,74.3h.9" stroke="#9a9cff" stroke-width="0.9" opacity="0.7" fill="none"/>
<ellipse transform="rotate(22 284.3 80.5)" filter="url(#b3)" cx="284.3" cy="80.5" rx="7.84" ry="11.88" fill="#4a5cff" opacity="0.55"/><ellipse transform="rotate(22 284.3 80.5)" filter="url(#b2)" cx="284.3" cy="80.5" rx="5.18" ry="8.42" fill="#3348fa"/><g transform="rotate(22 284.3 80.5)" filter="url(#b1)"><ellipse cx="284.30" cy="80.50" rx="7.00" ry="10.80" fill="#3f55fa"/><ellipse cx="283.99" cy="80.11" rx="5.18" ry="7.99" fill="#2a86f4"/><ellipse cx="283.84" cy="79.93" rx="4.34" ry="6.70" fill="#19c8e6"/><ellipse cx="283.70" cy="79.75" rx="3.50" ry="5.40" fill="#2fe07a"/></g>
<path d="M316.4,104.2h.9M310.8,57.8h.9M313.6,87.8h.9M309.9,91.8h.9M314.7,70.4h.9M314.5,72.8h.9M313.3,68.2h.9M311.7,63.4h.9M316.7,77.1h.9M303.1,91.4h.9M309.2,62.9h.9M310.5,71.0h.9M320.8,77.0h.9M315.1,89.7h.9M312.2,100.1h.9M301.5,73.6h.9M304.2,68.5h.9M310.5,92.6h.9M317.0,85.8h.9M315.2,80.6h.9M318.7,79.0h.9M305.0,74.3h.9M313.2,88.9h.9M314.7,77.4h.9M307.2,101.5h.9M313.8,91.6h.9M314.3,68.8h.9M308.3,52.9h.9M302.2,81.8h.9M313.7,74.3h.9M320.7,66.8h.9M309.2,100.8h.9M313.8,92.5h.9M305.2,89.9h.9M306.7,78.7h.9" stroke="#2a2af0" stroke-width="0.9" opacity="0.7" fill="none"/>
<path d="M319.1,85.2h.9M310.5,74.2h.9M313.5,74.5h.9M306.7,71.6h.9M315.9,86.6h.9M311.4,66.7h.9M316.8,75.4h.9M313.0,73.4h.9M315.6,84.4h.9M315.1,77.7h.9M310.7,93.5h.9M306.6,94.9h.9M305.4,59.9h.9M311.8,88.3h.9M314.4,94.8h.9M303.0,74.2h.9M306.5,81.0h.9M306.4,85.6h.9M312.9,87.8h.9M307.5,65.1h.9M304.7,87.6h.9M314.1,90.1h.9M304.3,73.8h.9M323.0,85.6h.9M318.5,90.2h.9M304.4,77.7h.9M315.6,88.6h.9" stroke="#3b4cff" stroke-width="0.9" opacity="0.7" fill="none"/>
<path d="M315.0,87.2h.9M313.5,73.9h.9M318.3,86.3h.9M307.5,69.4h.9M308.1,91.5h.9M310.0,91.3h.9M312.6,104.0h.9M308.1,92.4h.9M319.7,103.6h.9M312.2,65.9h.9M307.9,83.2h.9M320.9,99.4h.9M302.2,88.5h.9M316.0,89.3h.9M305.1,61.2h.9M317.4,83.3h.9M305.8,64.6h.9M317.8,105.4h.9M307.2,92.6h.9M314.4,73.2h.9M310.1,99.1h.9M309.9,88.0h.9M309.6,88.1h.9M298.8,88.6h.9M313.6,71.0h.9M317.4,86.1h.9M304.3,72.7h.9M309.2,100.0h.9M315.1,97.2h.9M313.8,75.5h.9M311.7,102.2h.9M312.3,89.0h.9" stroke="#6674ff" stroke-width="0.9" opacity="0.7" fill="none"/>
<path d="M310.8,71.1h.9M313.3,91.1h.9M308.3,77.2h.9M305.6,87.1h.9M312.4,73.2h.9M311.8,50.0h.9M315.1,67.3h.9M314.0,86.3h.9M304.9,74.3h.9M313.6,88.5h.9M311.8,58.6h.9M305.7,87.1h.9M312.6,69.0h.9M313.3,65.4h.9M312.4,103.4h.9M320.8,86.5h.9M306.1,73.7h.9M315.5,85.7h.9M316.0,79.1h.9M308.2,84.3h.9M309.6,91.3h.9M315.1,72.4h.9M321.3,77.5h.9M309.0,72.3h.9M307.8,66.4h.9M317.1,91.4h.9" stroke="#9a9cff" stroke-width="0.9" opacity="0.7" fill="none"/>
<ellipse transform="rotate(0 311.8 81)" filter="url(#b3)" cx="311.8" cy="81" rx="6.94" ry="15.73" fill="#4a5cff" opacity="0.55"/><ellipse transform="rotate(0 311.8 81)" filter="url(#b2)" cx="311.8" cy="81" rx="4.59" ry="11.15" fill="#3348fa"/><g transform="rotate(0 311.8 81)" filter="url(#b1)"><ellipse cx="311.80" cy="81.00" rx="6.20" ry="14.30" fill="#3f55fa"/><ellipse cx="311.80" cy="80.48" rx="4.59" ry="10.58" fill="#2a86f4"/><ellipse cx="311.80" cy="80.24" rx="3.84" ry="8.87" fill="#19c8e6"/><ellipse cx="311.80" cy="80.00" rx="3.10" ry="7.15" fill="#2fe07a"/><ellipse cx="311.80" cy="79.78" rx="2.42" ry="5.58" fill="#a6ea2e"/><ellipse cx="311.80" cy="79.58" rx="1.80" ry="4.15" fill="#f2d21c"/><ellipse cx="311.80" cy="79.40" rx="1.24" ry="2.86" fill="#f48a18"/><ellipse cx="311.80" cy="79.22" rx="0.68" ry="1.57" fill="#ee3312"/></g>
</g>
<rect class="box" x="262.5" y="36.5" width="74" height="74.0"/>
<path d="M262.5,110.5h2.2M262.5,110.5v-2.2M262.5,105.0h1.2M268.1,110.5v-1.2M262.5,101.6h1.2M271.4,110.5v-1.2M262.5,99.4h1.2M273.6,110.5v-1.2M262.5,97.5h1.2M275.4,110.5v-1.2M262.5,96.1h1.2M276.9,110.5v-1.2M262.5,94.8h1.2M278.2,110.5v-1.2M262.5,93.8h1.2M279.1,110.5v-1.2M262.5,92.9h1.2M280.1,110.5v-1.2M262.5,92.0h2.2M281.0,110.5v-2.2M262.5,86.5h1.2M286.6,110.5v-1.2M262.5,83.1h1.2M289.9,110.5v-1.2M262.5,80.9h1.2M292.1,110.5v-1.2M262.5,79.0h1.2M293.9,110.5v-1.2M262.5,77.6h1.2M295.4,110.5v-1.2M262.5,76.3h1.2M296.7,110.5v-1.2M262.5,75.3h1.2M297.6,110.5v-1.2M262.5,74.4h1.2M298.6,110.5v-1.2M262.5,73.5h2.2M299.5,110.5v-2.2M262.5,68.0h1.2M305.1,110.5v-1.2M262.5,64.6h1.2M308.4,110.5v-1.2M262.5,62.4h1.2M310.6,110.5v-1.2M262.5,60.5h1.2M312.4,110.5v-1.2M262.5,59.1h1.2M313.9,110.5v-1.2M262.5,57.8h1.2M315.2,110.5v-1.2M262.5,56.8h1.2M316.1,110.5v-1.2M262.5,55.9h1.2M317.1,110.5v-1.2M262.5,55.0h2.2M318.0,110.5v-2.2M262.5,49.5h1.2M323.6,110.5v-1.2M262.5,46.1h1.2M326.9,110.5v-1.2M262.5,43.9h1.2M329.1,110.5v-1.2M262.5,42.0h1.2M330.9,110.5v-1.2M262.5,40.6h1.2M332.4,110.5v-1.2M262.5,39.3h1.2M333.7,110.5v-1.2M262.5,38.3h1.2M334.6,110.5v-1.2M262.5,37.4h1.2M335.6,110.5v-1.2M262.5,36.5h2.2M336.5,110.5v-2.2" stroke="#222" stroke-width="0.7" fill="none"/>
<path d="M262.5,36.5V110.5H336.5" stroke="#1a1a1a" stroke-width="1" fill="none"/>
<text class="tk" x="261.7" y="112.7" text-anchor="end">10<tspan dx="-1.5" dy="-2" style="font-size:2.8px">0</tspan></text>
<text class="tk" x="263.1" y="119.1" text-anchor="middle">10<tspan dx="-1.5" dy="-2" style="font-size:2.8px">0</tspan></text>
<text class="tk" x="261.7" y="94.2" text-anchor="end">10<tspan dx="-1.5" dy="-2" style="font-size:2.8px">1</tspan></text>
<text class="tk" x="281.6" y="119.1" text-anchor="middle">10<tspan dx="-1.5" dy="-2" style="font-size:2.8px">1</tspan></text>
<text class="tk" x="261.7" y="75.7" text-anchor="end">10<tspan dx="-1.5" dy="-2" style="font-size:2.8px">2</tspan></text>
<text class="tk" x="300.1" y="119.1" text-anchor="middle">10<tspan dx="-1.5" dy="-2" style="font-size:2.8px">2</tspan></text>
<text class="tk" x="261.7" y="57.2" text-anchor="end">10<tspan dx="-1.5" dy="-2" style="font-size:2.8px">3</tspan></text>
<text class="tk" x="318.6" y="119.1" text-anchor="middle">10<tspan dx="-1.5" dy="-2" style="font-size:2.8px">3</tspan></text>
<text class="tk" x="261.7" y="38.7" text-anchor="end">10<tspan dx="-1.5" dy="-2" style="font-size:2.8px">4</tspan></text>
<text class="tk" x="337.1" y="119.1" text-anchor="middle">10<tspan dx="-1.5" dy="-2" style="font-size:2.8px">4</tspan></text>
<rect class="gate" x="262.5" y="56.5" width="45.0" height="39.8"/>
<text x="266.4" y="69.9" class="t11" text-anchor="start" >35.6</text>
<clipPath id="cp3"><rect x="351.5" y="37.0" width="73" height="73.0"/></clipPath><g clip-path="url(#cp3)">
<path d="M397.8,76.9h.9M388.1,75.1h.9M381.2,77.8h.9M382.6,82.3h.9M379.9,61.9h.9M381.7,76.7h.9M395.0,77.2h.9M390.3,90.3h.9M377.3,74.3h.9M383.4,82.8h.9M378.0,82.9h.9M388.9,70.4h.9M397.5,74.6h.9M390.4,81.0h.9M397.6,74.9h.9M386.1,73.2h.9M378.4,93.5h.9M380.9,76.7h.9M381.5,79.4h.9M392.5,76.0h.9M386.0,67.3h.9M380.0,94.9h.9M378.1,89.3h.9M379.7,78.8h.9M396.2,77.0h.9M397.6,65.9h.9M376.7,81.2h.9M376.8,74.9h.9M383.0,82.7h.9M379.3,89.6h.9M380.7,76.8h.9M387.2,72.5h.9M388.1,72.7h.9M389.4,80.0h.9M394.8,80.1h.9M386.4,95.3h.9M380.9,78.9h.9" stroke="#2a2af0" stroke-width="0.9" opacity="0.6" fill="none"/>
<path d="M388.5,62.7h.9M395.2,75.5h.9M393.0,73.3h.9M382.2,84.0h.9M396.7,66.4h.9M391.0,76.0h.9M387.2,75.7h.9M395.2,72.7h.9M380.8,76.2h.9M389.3,82.8h.9M392.1,76.3h.9M395.3,77.9h.9M384.9,77.3h.9M386.9,75.6h.9M383.2,72.6h.9M389.2,76.5h.9M383.3,79.7h.9M380.0,86.2h.9M379.9,78.8h.9M379.6,64.3h.9M387.0,75.8h.9M395.0,83.8h.9M389.1,89.0h.9M380.6,73.1h.9M395.4,72.2h.9M383.5,77.2h.9M385.5,79.8h.9M395.3,85.9h.9M383.8,80.0h.9M397.3,88.4h.9M377.0,82.6h.9M384.0,84.9h.9M381.3,81.1h.9M382.9,73.0h.9M397.4,91.6h.9M387.2,61.0h.9M384.7,70.5h.9M380.9,73.7h.9" stroke="#3b4cff" stroke-width="0.9" opacity="0.6" fill="none"/>
<path d="M376.8,68.8h.9M384.0,72.6h.9M384.9,85.9h.9M397.7,73.3h.9M388.5,82.2h.9M382.8,78.7h.9M396.6,71.2h.9M383.5,88.2h.9M383.9,70.0h.9M377.5,86.1h.9M397.2,77.7h.9M380.1,83.2h.9M387.8,87.1h.9M380.7,74.6h.9M385.1,89.4h.9M386.2,76.9h.9M376.3,88.0h.9M397.7,75.9h.9M377.2,71.5h.9M378.1,82.2h.9M392.8,81.0h.9M393.0,74.1h.9M386.5,80.7h.9M397.8,73.4h.9M379.0,87.7h.9M388.2,83.1h.9M376.6,80.9h.9M393.6,75.1h.9M382.5,62.9h.9M376.5,94.5h.9M379.0,85.6h.9M382.0,72.4h.9M379.9,79.8h.9M376.2,76.1h.9M388.0,70.6h.9M395.2,61.5h.9M385.2,83.6h.9M397.4,74.8h.9M396.4,79.7h.9M384.3,89.6h.9M391.3,78.8h.9M383.1,74.6h.9M381.2,67.6h.9M390.9,78.4h.9M383.1,74.0h.9M391.9,72.1h.9" stroke="#6674ff" stroke-width="0.9" opacity="0.6" fill="none"/>
<path d="M392.3,91.2h.9M383.1,82.4h.9M381.4,80.8h.9M376.2,83.1h.9M382.7,81.3h.9M377.8,75.6h.9M393.0,67.3h.9M386.7,84.5h.9M376.5,82.8h.9M391.5,84.8h.9M393.8,78.3h.9M396.3,72.9h.9M392.9,83.2h.9M387.9,73.2h.9M391.7,74.6h.9M387.5,81.6h.9M396.7,80.6h.9M381.0,80.1h.9M376.6,77.0h.9M379.3,77.5h.9M392.1,89.2h.9M384.8,84.0h.9M395.0,88.4h.9M385.0,83.3h.9M396.2,89.3h.9M381.1,87.4h.9M380.5,80.6h.9M382.6,70.0h.9M397.9,81.9h.9M379.4,88.9h.9M394.1,78.7h.9M386.7,86.2h.9M395.6,85.6h.9M395.0,89.4h.9M376.2,92.2h.9M396.1,86.7h.9M391.2,92.3h.9M378.3,101.3h.9M385.4,84.6h.9M392.2,76.6h.9M386.9,85.7h.9M391.8,75.1h.9M385.0,84.5h.9M379.1,80.7h.9M394.5,83.3h.9M393.2,81.9h.9M389.8,79.7h.9M391.7,73.2h.9M389.5,78.6h.9" stroke="#9a9cff" stroke-width="0.9" opacity="0.6" fill="none"/>
<ellipse cx="386" cy="79" rx="11" ry="7" fill="#5a6cff" opacity="0.3" filter="url(#b3)"/>
<ellipse cx="370" cy="86.5" rx="3.6" ry="5.5" fill="#4a5cff" opacity="0.8" filter="url(#b3)"/>
<path d="M369.2,86.4h.9M380.4,77.8h.9M367.4,80.2h.9M374.1,99.0h.9M372.8,71.7h.9M375.5,83.1h.9M382.2,69.7h.9M363.0,85.2h.9M369.3,69.4h.9M377.8,78.8h.9M367.3,80.0h.9M369.1,75.1h.9M366.3,84.2h.9M368.5,79.2h.9M374.1,87.1h.9M368.4,91.7h.9M382.0,74.1h.9M367.3,82.6h.9M381.4,64.4h.9M374.1,71.0h.9M375.7,70.7h.9M371.6,86.4h.9M374.9,84.7h.9M387.1,62.8h.9M360.4,98.5h.9M377.0,88.9h.9" stroke="#2a2af0" stroke-width="0.9" opacity="0.7" fill="none"/>
<path d="M383.1,64.1h.9M367.7,87.6h.9M369.2,85.3h.9M359.7,95.3h.9M384.5,81.7h.9M370.2,88.6h.9M385.1,65.2h.9M381.6,77.8h.9M368.3,83.8h.9M380.5,75.1h.9M378.3,74.0h.9M372.7,67.4h.9M370.6,85.1h.9M377.6,83.6h.9M377.2,68.6h.9M370.5,75.0h.9M370.7,73.4h.9M383.7,81.9h.9M360.2,79.4h.9M367.8,81.6h.9M369.7,96.6h.9M381.0,79.9h.9M374.7,95.5h.9M377.5,67.2h.9M361.2,82.1h.9M380.5,71.3h.9M375.7,66.9h.9" stroke="#3b4cff" stroke-width="0.9" opacity="0.7" fill="none"/>
<path d="M365.7,88.2h.9M375.6,67.2h.9M369.0,69.2h.9M373.2,74.0h.9M377.5,77.8h.9M366.0,95.1h.9M373.0,91.5h.9M377.9,74.0h.9M378.0,62.5h.9M375.0,88.5h.9M384.5,83.7h.9M382.7,55.1h.9M364.4,77.5h.9M375.8,86.6h.9M364.3,92.6h.9M375.6,87.1h.9M372.5,74.1h.9M373.0,71.7h.9M363.2,90.4h.9M359.8,77.0h.9M373.7,98.1h.9M375.7,92.2h.9M371.0,89.7h.9M369.8,74.5h.9M367.1,75.9h.9M375.4,68.1h.9M391.3,73.2h.9M364.9,83.1h.9M363.7,76.1h.9M381.4,63.7h.9M371.5,67.7h.9M372.6,92.1h.9M378.7,72.9h.9M378.6,72.6h.9M390.4,79.6h.9M377.5,79.8h.9M370.1,87.9h.9M367.9,93.7h.9M366.6,83.1h.9M372.5,70.6h.9M369.4,70.4h.9" stroke="#6674ff" stroke-width="0.9" opacity="0.7" fill="none"/>
<path d="M365.2,73.0h.9M380.4,68.3h.9M367.4,80.8h.9M370.9,60.0h.9M376.8,86.4h.9M363.2,66.0h.9M375.4,86.5h.9M379.9,67.1h.9M362.6,92.5h.9M366.0,70.0h.9M372.2,73.0h.9M368.3,79.3h.9M374.5,83.9h.9M365.9,72.7h.9M385.5,90.3h.9M378.5,69.9h.9M361.4,79.4h.9M374.3,90.5h.9M379.8,78.3h.9M366.8,77.4h.9M372.4,94.2h.9M367.4,83.8h.9M381.2,84.5h.9M377.6,71.7h.9M372.9,84.8h.9M380.2,95.5h.9M381.2,68.4h.9M373.7,69.6h.9M373.8,90.2h.9M381.4,80.8h.9M377.7,81.3h.9M381.7,64.3h.9M374.6,87.4h.9M362.6,76.2h.9M375.0,59.5h.9M379.5,78.4h.9" stroke="#9a9cff" stroke-width="0.9" opacity="0.7" fill="none"/>
<ellipse transform="rotate(22 372.8 79.5)" filter="url(#b3)" cx="372.8" cy="79.5" rx="8.06" ry="12.65" fill="#4a5cff" opacity="0.55"/><ellipse transform="rotate(22 372.8 79.5)" filter="url(#b2)" cx="372.8" cy="79.5" rx="5.33" ry="8.97" fill="#3348fa"/><g transform="rotate(22 372.8 79.5)" filter="url(#b1)"><ellipse cx="372.80" cy="79.50" rx="7.20" ry="11.50" fill="#3f55fa"/><ellipse cx="372.54" cy="79.37" rx="5.33" ry="8.51" fill="#2a86f4"/><ellipse cx="372.42" cy="79.31" rx="4.46" ry="7.13" fill="#19c8e6"/><ellipse cx="372.30" cy="79.25" rx="3.60" ry="5.75" fill="#2fe07a"/><ellipse cx="372.19" cy="79.19" rx="2.81" ry="4.49" fill="#a6ea2e"/></g>
<path d="M402.9,97.2h.9M403.8,67.5h.9M400.2,103.2h.9M396.9,92.5h.9M398.5,67.8h.9M395.0,61.1h.9M402.6,50.9h.9M395.6,99.9h.9M396.0,96.5h.9M393.7,77.4h.9M404.3,68.1h.9M399.7,98.6h.9M390.9,79.7h.9M404.1,62.8h.9M398.0,70.2h.9M402.3,95.2h.9M407.6,77.1h.9M403.2,61.8h.9M408.5,89.2h.9M402.5,73.1h.9M398.5,73.7h.9M402.9,86.0h.9M403.9,86.3h.9M397.9,92.8h.9M403.9,81.3h.9M399.9,66.2h.9M394.3,70.3h.9M402.8,112.8h.9M405.6,46.0h.9M414.3,96.0h.9M394.4,82.0h.9M403.9,78.5h.9M413.3,62.5h.9M400.2,71.6h.9M402.1,91.0h.9M408.6,81.4h.9M394.8,99.1h.9M393.1,85.4h.9M404.9,87.4h.9M401.6,68.3h.9M396.8,81.3h.9M405.9,80.8h.9M402.8,70.7h.9M404.8,87.4h.9" stroke="#2a2af0" stroke-width="0.9" opacity="0.7" fill="none"/>
<path d="M404.8,94.0h.9M398.8,70.8h.9M396.3,77.7h.9M401.0,90.7h.9M410.2,90.9h.9M399.0,91.8h.9M399.3,69.7h.9M400.3,55.3h.9M398.4,89.2h.9M407.8,87.5h.9M406.0,59.0h.9M399.5,68.5h.9M399.1,65.8h.9M405.7,85.4h.9M395.7,99.8h.9M402.0,69.3h.9M390.9,73.9h.9M396.7,79.5h.9M410.0,74.1h.9M395.0,78.3h.9M398.1,58.5h.9M394.9,64.1h.9M402.8,89.4h.9M387.8,85.7h.9M404.8,88.0h.9M407.4,73.9h.9M408.6,85.2h.9M399.3,87.4h.9M391.1,101.8h.9" stroke="#3b4cff" stroke-width="0.9" opacity="0.7" fill="none"/>
<path d="M396.1,74.0h.9M397.1,72.7h.9M396.5,83.7h.9M395.5,71.5h.9M398.0,64.3h.9M399.0,62.7h.9M402.3,89.5h.9M397.8,85.0h.9M400.3,64.9h.9M402.0,88.3h.9M395.1,73.8h.9M409.9,82.8h.9M410.7,76.8h.9M396.4,89.7h.9M402.5,69.7h.9M402.3,96.6h.9M396.6,67.3h.9M401.7,88.0h.9" stroke="#6674ff" stroke-width="0.9" opacity="0.7" fill="none"/>
<path d="M391.4,98.3h.9M399.6,106.9h.9M398.4,72.7h.9M401.2,57.7h.9M400.9,70.5h.9M407.2,70.7h.9M402.3,51.5h.9M396.0,74.5h.9M397.6,84.8h.9M403.5,95.8h.9M398.4,68.8h.9M397.3,64.2h.9M404.7,93.4h.9M408.2,66.1h.9M402.2,101.5h.9M397.5,76.9h.9M402.8,70.4h.9M402.7,97.9h.9M392.8,90.2h.9M399.6,69.8h.9M400.4,91.5h.9M397.3,70.2h.9M404.3,79.3h.9M401.8,71.1h.9M400.8,87.7h.9M406.1,80.6h.9M404.4,72.2h.9M395.8,67.4h.9M402.1,90.0h.9" stroke="#9a9cff" stroke-width="0.9" opacity="0.7" fill="none"/>
<ellipse transform="rotate(0 400.8 79.8)" filter="url(#b3)" cx="400.8" cy="79.8" rx="6.72" ry="16.50" fill="#4a5cff" opacity="0.55"/><ellipse transform="rotate(0 400.8 79.8)" filter="url(#b2)" cx="400.8" cy="79.8" rx="4.44" ry="11.70" fill="#3348fa"/><g transform="rotate(0 400.8 79.8)" filter="url(#b1)"><ellipse cx="400.80" cy="79.80" rx="6.00" ry="15.00" fill="#3f55fa"/><ellipse cx="400.80" cy="79.49" rx="4.44" ry="11.10" fill="#2a86f4"/><ellipse cx="400.80" cy="79.34" rx="3.72" ry="9.30" fill="#19c8e6"/><ellipse cx="400.80" cy="79.20" rx="3.00" ry="7.50" fill="#2fe07a"/><ellipse cx="400.80" cy="79.07" rx="2.34" ry="5.85" fill="#a6ea2e"/><ellipse cx="400.80" cy="78.95" rx="1.74" ry="4.35" fill="#f2d21c"/><ellipse cx="400.80" cy="78.84" rx="1.20" ry="3.00" fill="#f48a18"/><ellipse cx="400.80" cy="78.73" rx="0.66" ry="1.65" fill="#ee3312"/></g>
</g>
<rect class="box" x="351" y="36.5" width="74" height="74.0"/>
<path d="M351,110.5h2.2M351.0,110.5v-2.2M351,105.0h1.2M356.6,110.5v-1.2M351,101.6h1.2M359.9,110.5v-1.2M351,99.4h1.2M362.1,110.5v-1.2M351,97.5h1.2M363.9,110.5v-1.2M351,96.1h1.2M365.4,110.5v-1.2M351,94.8h1.2M366.7,110.5v-1.2M351,93.8h1.2M367.6,110.5v-1.2M351,92.9h1.2M368.6,110.5v-1.2M351,92.0h2.2M369.5,110.5v-2.2M351,86.5h1.2M375.1,110.5v-1.2M351,83.1h1.2M378.4,110.5v-1.2M351,80.9h1.2M380.6,110.5v-1.2M351,79.0h1.2M382.4,110.5v-1.2M351,77.6h1.2M383.9,110.5v-1.2M351,76.3h1.2M385.2,110.5v-1.2M351,75.3h1.2M386.1,110.5v-1.2M351,74.4h1.2M387.1,110.5v-1.2M351,73.5h2.2M388.0,110.5v-2.2M351,68.0h1.2M393.6,110.5v-1.2M351,64.6h1.2M396.9,110.5v-1.2M351,62.4h1.2M399.1,110.5v-1.2M351,60.5h1.2M400.9,110.5v-1.2M351,59.1h1.2M402.4,110.5v-1.2M351,57.8h1.2M403.7,110.5v-1.2M351,56.8h1.2M404.6,110.5v-1.2M351,55.9h1.2M405.6,110.5v-1.2M351,55.0h2.2M406.5,110.5v-2.2M351,49.5h1.2M412.1,110.5v-1.2M351,46.1h1.2M415.4,110.5v-1.2M351,43.9h1.2M417.6,110.5v-1.2M351,42.0h1.2M419.4,110.5v-1.2M351,40.6h1.2M420.9,110.5v-1.2M351,39.3h1.2M422.2,110.5v-1.2M351,38.3h1.2M423.1,110.5v-1.2M351,37.4h1.2M424.1,110.5v-1.2M351,36.5h2.2M425.0,110.5v-2.2" stroke="#222" stroke-width="0.7" fill="none"/>
<path d="M351,36.5V110.5H425" stroke="#1a1a1a" stroke-width="1" fill="none"/>
<text class="tk" x="350.2" y="112.7" text-anchor="end">10<tspan dx="-1.5" dy="-2" style="font-size:2.8px">0</tspan></text>
<text class="tk" x="351.6" y="119.1" text-anchor="middle">10<tspan dx="-1.5" dy="-2" style="font-size:2.8px">0</tspan></text>
<text class="tk" x="350.2" y="94.2" text-anchor="end">10<tspan dx="-1.5" dy="-2" style="font-size:2.8px">1</tspan></text>
<text class="tk" x="370.1" y="119.1" text-anchor="middle">10<tspan dx="-1.5" dy="-2" style="font-size:2.8px">1</tspan></text>
<text class="tk" x="350.2" y="75.7" text-anchor="end">10<tspan dx="-1.5" dy="-2" style="font-size:2.8px">2</tspan></text>
<text class="tk" x="388.6" y="119.1" text-anchor="middle">10<tspan dx="-1.5" dy="-2" style="font-size:2.8px">2</tspan></text>
<text class="tk" x="350.2" y="57.2" text-anchor="end">10<tspan dx="-1.5" dy="-2" style="font-size:2.8px">3</tspan></text>
<text class="tk" x="407.1" y="119.1" text-anchor="middle">10<tspan dx="-1.5" dy="-2" style="font-size:2.8px">3</tspan></text>
<text class="tk" x="350.2" y="38.7" text-anchor="end">10<tspan dx="-1.5" dy="-2" style="font-size:2.8px">4</tspan></text>
<text class="tk" x="425.6" y="119.1" text-anchor="middle">10<tspan dx="-1.5" dy="-2" style="font-size:2.8px">4</tspan></text>
<rect class="gate" x="351" y="56.5" width="45.5" height="39.8"/>
<text x="357.0" y="69.9" class="t11" text-anchor="start" >50</text>
<clipPath id="cp4"><rect x="440.5" y="37.0" width="73" height="73.0"/></clipPath><g clip-path="url(#cp4)">
<path d="M477.3,75.3h.9M473.5,87.4h.9M471.0,80.1h.9M468.6,75.3h.9M485.6,95.6h.9M478.9,88.5h.9M477.2,85.3h.9M467.5,88.0h.9M475.5,84.3h.9M483.8,88.4h.9M469.5,81.1h.9M466.6,63.8h.9M466.2,76.6h.9M473.1,81.8h.9M473.9,80.0h.9M482.6,89.9h.9M471.4,70.2h.9M485.0,73.4h.9M468.9,69.8h.9M473.7,68.9h.9M472.8,89.5h.9M479.7,72.0h.9M481.2,80.8h.9M473.6,80.7h.9M476.2,86.2h.9M483.9,82.7h.9M481.6,77.7h.9M485.0,75.7h.9M469.7,70.6h.9M474.7,101.3h.9M468.8,66.5h.9M471.3,68.8h.9M478.0,80.7h.9M481.6,83.9h.9" stroke="#2a2af0" stroke-width="0.9" opacity="0.6" fill="none"/>
<path d="M466.7,82.0h.9M483.9,74.3h.9M479.6,70.2h.9M475.1,92.5h.9M467.9,94.9h.9M479.8,72.5h.9M479.6,65.7h.9M484.1,74.0h.9M470.4,76.8h.9M467.5,90.3h.9M476.1,82.1h.9M483.6,85.0h.9M469.7,72.2h.9M473.8,88.4h.9M469.5,72.6h.9M479.6,89.0h.9M470.0,81.1h.9M467.2,72.0h.9M477.0,81.0h.9M476.7,78.7h.9M476.0,83.0h.9M471.9,77.7h.9M483.0,79.4h.9M466.9,86.4h.9M480.7,87.7h.9M475.4,83.4h.9M486.5,75.4h.9M483.6,78.0h.9M467.4,84.2h.9M470.0,74.1h.9M482.5,81.1h.9M474.9,75.8h.9M475.1,77.0h.9" stroke="#3b4cff" stroke-width="0.9" opacity="0.6" fill="none"/>
<path d="M483.1,92.0h.9M473.2,83.6h.9M479.9,80.5h.9M481.0,65.4h.9M472.0,94.7h.9M484.2,73.9h.9M467.4,82.1h.9M474.2,90.0h.9M485.3,79.1h.9M484.4,98.7h.9M474.1,80.7h.9M467.9,81.9h.9M478.3,85.4h.9M477.4,77.4h.9M485.1,67.9h.9M475.9,76.6h.9M477.7,80.3h.9M476.3,73.3h.9M485.1,77.8h.9M478.8,96.1h.9M467.3,77.8h.9M475.8,91.6h.9M468.8,75.9h.9M482.9,77.8h.9M479.6,81.5h.9M470.2,85.7h.9M466.7,78.2h.9M477.9,85.7h.9M482.2,81.0h.9M469.3,93.3h.9M474.1,79.4h.9M471.8,89.0h.9M472.7,80.1h.9M467.7,85.2h.9M486.3,79.3h.9" stroke="#6674ff" stroke-width="0.9" opacity="0.6" fill="none"/>
<path d="M467.3,82.9h.9M467.1,81.3h.9M476.9,81.6h.9M470.6,80.5h.9M478.8,91.5h.9M474.2,70.3h.9M481.6,81.7h.9M481.2,84.0h.9M474.3,76.8h.9M480.6,89.8h.9M470.3,81.5h.9M473.4,75.0h.9M479.9,86.5h.9M472.6,79.8h.9M471.6,82.2h.9M485.5,86.0h.9M483.9,72.2h.9M471.1,84.3h.9M468.1,75.2h.9M471.9,84.7h.9M485.4,84.5h.9M471.6,75.1h.9M470.5,79.5h.9M476.0,84.5h.9M466.7,71.6h.9M471.7,91.6h.9M483.0,73.8h.9M477.5,75.1h.9" stroke="#9a9cff" stroke-width="0.9" opacity="0.6" fill="none"/>
<ellipse cx="476" cy="80" rx="10" ry="7" fill="#5a6cff" opacity="0.2" filter="url(#b3)"/>
<path d="M470.5,82.8h.9M458.2,73.6h.9M458.4,72.6h.9M468.3,84.6h.9M463.1,84.3h.9M468.9,83.9h.9M468.1,77.4h.9M466.5,82.8h.9M453.3,74.9h.9M466.0,72.4h.9M465.4,86.3h.9M466.7,86.0h.9M456.0,80.4h.9M474.6,81.9h.9M444.4,84.7h.9M458.0,65.6h.9M457.4,74.5h.9M460.8,81.1h.9M468.8,80.5h.9M472.4,74.6h.9M453.3,74.0h.9M462.8,61.9h.9M455.0,80.0h.9M466.8,72.6h.9M458.3,86.8h.9M465.6,93.3h.9M477.4,77.9h.9M482.0,86.3h.9M459.7,75.0h.9" stroke="#2a2af0" stroke-width="0.9" opacity="0.7" fill="none"/>
<path d="M466.3,73.7h.9M453.3,76.0h.9M464.5,66.8h.9M458.2,72.1h.9M466.0,74.2h.9M448.4,82.0h.9M469.6,81.1h.9M459.7,68.7h.9M462.3,61.5h.9M464.0,93.5h.9M459.5,84.1h.9M466.5,87.0h.9M469.6,78.1h.9M459.7,76.2h.9M462.7,73.6h.9M463.1,86.1h.9M473.5,76.1h.9M470.3,77.1h.9M457.4,78.4h.9M461.9,74.1h.9M453.4,79.8h.9M468.9,84.3h.9M466.5,84.0h.9M465.3,84.0h.9M467.3,84.5h.9M464.4,86.4h.9M454.5,87.2h.9M462.7,82.5h.9M475.9,80.7h.9M455.9,82.8h.9M458.3,81.3h.9M458.7,83.3h.9M465.9,69.2h.9M474.0,71.6h.9M467.1,71.6h.9M458.7,84.0h.9M456.4,82.4h.9M451.1,70.0h.9M465.4,82.0h.9M465.9,74.6h.9M465.5,90.5h.9M476.5,69.7h.9M463.7,95.9h.9" stroke="#3b4cff" stroke-width="0.9" opacity="0.7" fill="none"/>
<path d="M462.7,86.4h.9M474.7,91.3h.9M461.2,86.3h.9M464.4,72.9h.9M457.3,86.6h.9M469.5,83.2h.9M464.2,66.0h.9M473.2,75.0h.9M455.3,91.7h.9M467.4,69.3h.9M458.2,75.4h.9M467.4,68.3h.9M456.1,77.9h.9M465.7,87.6h.9M469.6,61.9h.9M455.5,87.5h.9M458.2,93.1h.9M475.1,75.1h.9M460.9,69.1h.9M471.6,71.1h.9M470.6,77.2h.9M475.3,85.7h.9M462.9,97.8h.9M470.7,84.3h.9M450.8,96.4h.9M459.0,68.4h.9M465.5,68.1h.9M450.4,65.9h.9M446.7,75.5h.9M460.8,66.4h.9M473.2,78.1h.9M477.6,85.6h.9M475.4,91.8h.9M458.8,82.1h.9M472.9,64.0h.9M462.1,100.4h.9M466.8,69.2h.9M485.1,77.5h.9" stroke="#6674ff" stroke-width="0.9" opacity="0.7" fill="none"/>
<path d="M465.2,91.3h.9M465.9,84.7h.9M472.4,65.2h.9M461.9,70.9h.9M464.9,59.6h.9M465.1,64.0h.9M470.7,82.8h.9M471.6,73.6h.9M464.1,73.0h.9M455.0,82.7h.9M467.6,68.9h.9M469.8,79.0h.9M458.6,69.4h.9M473.6,78.4h.9M462.1,86.0h.9M462.3,82.8h.9M467.3,61.2h.9M449.7,77.0h.9M472.7,78.0h.9M464.1,73.6h.9M478.5,78.0h.9M465.4,71.4h.9M470.7,69.9h.9M477.7,77.4h.9M456.3,83.4h.9M467.4,83.6h.9M460.9,90.6h.9M467.3,51.7h.9M465.7,72.0h.9M469.2,73.5h.9M459.0,82.8h.9M467.1,81.0h.9M454.8,78.1h.9M454.4,81.9h.9M473.2,91.4h.9M463.7,87.2h.9M454.0,66.9h.9M444.4,81.6h.9M464.4,99.7h.9M467.8,76.6h.9" stroke="#9a9cff" stroke-width="0.9" opacity="0.7" fill="none"/>
<ellipse transform="rotate(15 463.8 78.2)" filter="url(#b3)" cx="463.8" cy="78.2" rx="8.96" ry="9.24" fill="#4a5cff" opacity="0.55"/><ellipse transform="rotate(15 463.8 78.2)" filter="url(#b2)" cx="463.8" cy="78.2" rx="5.92" ry="6.55" fill="#3348fa"/><g transform="rotate(15 463.8 78.2)" filter="url(#b1)"><ellipse cx="463.80" cy="78.20" rx="8.00" ry="8.40" fill="#3f55fa"/><ellipse cx="463.80" cy="78.20" rx="5.60" ry="5.88" fill="#2a86f4"/><ellipse cx="463.80" cy="78.20" rx="4.16" ry="4.20" fill="#19c8e6"/><ellipse cx="463.80" cy="78.20" rx="1.60" ry="1.51" fill="#2fe07a"/></g>
<path d="M489.5,68.9h.9M485.5,76.8h.9M484.8,85.7h.9M481.8,97.0h.9M486.5,74.6h.9M497.3,97.1h.9M493.5,87.2h.9M493.8,79.1h.9M491.5,87.0h.9M494.2,82.4h.9M481.5,86.5h.9M493.2,89.5h.9M487.4,64.9h.9M479.3,78.0h.9M498.5,74.6h.9M487.7,92.6h.9M487.0,87.2h.9M494.0,88.3h.9M496.9,63.4h.9M485.3,80.7h.9M498.4,80.0h.9M480.5,91.3h.9M495.1,95.5h.9M484.4,93.1h.9M489.4,70.0h.9M492.8,87.8h.9M485.6,97.3h.9M492.4,110.7h.9M491.5,54.7h.9M485.4,84.3h.9M487.0,64.7h.9M495.3,77.3h.9M498.3,63.5h.9M483.2,94.2h.9M491.1,89.3h.9M481.3,71.8h.9M496.7,75.2h.9M487.4,69.1h.9M486.1,91.3h.9" stroke="#2a2af0" stroke-width="0.9" opacity="0.7" fill="none"/>
<path d="M502.3,70.3h.9M493.5,76.1h.9M490.2,61.1h.9M500.1,76.5h.9M492.3,91.9h.9M489.5,65.1h.9M499.2,88.7h.9M485.8,84.2h.9M486.3,64.8h.9M484.0,46.1h.9M493.5,92.8h.9M492.0,86.7h.9M497.6,68.7h.9M479.1,65.0h.9M496.6,89.8h.9M491.0,66.5h.9M489.8,93.5h.9M490.4,64.7h.9M496.2,75.6h.9M481.4,83.7h.9M483.1,46.4h.9M489.5,62.8h.9M486.8,91.4h.9M485.0,80.3h.9M478.0,84.9h.9M490.7,73.4h.9M485.0,76.2h.9M493.0,88.4h.9M483.4,83.2h.9M498.6,104.7h.9M493.1,87.5h.9M495.3,77.9h.9M493.3,80.8h.9" stroke="#3b4cff" stroke-width="0.9" opacity="0.7" fill="none"/>
<path d="M496.5,61.8h.9M493.0,82.9h.9M485.7,72.2h.9M486.6,65.2h.9M490.6,92.5h.9M494.7,70.2h.9M485.6,88.1h.9M494.4,80.7h.9M497.5,75.8h.9M488.7,87.0h.9M484.9,70.4h.9M488.9,96.9h.9M500.9,66.9h.9M490.4,60.8h.9M489.5,70.5h.9M482.7,75.8h.9M500.7,85.8h.9M500.3,64.3h.9M481.9,59.9h.9M498.3,94.1h.9M493.6,63.2h.9M487.9,85.7h.9M494.8,98.6h.9M494.5,76.8h.9M482.1,59.5h.9" stroke="#6674ff" stroke-width="0.9" opacity="0.7" fill="none"/>
<path d="M487.3,73.5h.9M484.7,85.7h.9M499.0,72.5h.9M479.8,70.7h.9M495.6,80.7h.9M486.7,76.7h.9M493.4,51.0h.9M492.2,59.5h.9M489.2,70.0h.9M488.3,102.4h.9M481.2,101.9h.9M484.1,84.2h.9M490.0,88.4h.9M485.9,81.6h.9M497.6,91.0h.9M480.0,85.6h.9M492.0,69.2h.9M489.9,71.9h.9M488.3,71.2h.9M486.7,77.6h.9M501.6,77.2h.9M486.7,77.9h.9M490.2,91.2h.9" stroke="#9a9cff" stroke-width="0.9" opacity="0.7" fill="none"/>
<ellipse transform="rotate(0 490 80.3)" filter="url(#b3)" cx="490" cy="80.3" rx="6.72" ry="15.40" fill="#4a5cff" opacity="0.55"/><ellipse transform="rotate(0 490 80.3)" filter="url(#b2)" cx="490" cy="80.3" rx="4.44" ry="10.92" fill="#3348fa"/><g transform="rotate(0 490 80.3)" filter="url(#b1)"><ellipse cx="490.00" cy="80.30" rx="6.00" ry="14.00" fill="#3f55fa"/><ellipse cx="490.00" cy="79.83" rx="4.44" ry="10.36" fill="#2a86f4"/><ellipse cx="490.00" cy="79.62" rx="3.72" ry="8.68" fill="#19c8e6"/><ellipse cx="490.00" cy="79.40" rx="3.00" ry="7.00" fill="#2fe07a"/><ellipse cx="490.00" cy="79.20" rx="2.34" ry="5.46" fill="#a6ea2e"/><ellipse cx="490.00" cy="79.02" rx="1.74" ry="4.06" fill="#f2d21c"/><ellipse cx="490.00" cy="78.86" rx="1.20" ry="2.80" fill="#f48a18"/><ellipse cx="490.00" cy="78.70" rx="0.66" ry="1.54" fill="#ee3312"/></g>
</g>
<rect class="box" x="440" y="36.5" width="74" height="74.0"/>
<path d="M440,110.5h2.2M440.0,110.5v-2.2M440,105.0h1.2M445.6,110.5v-1.2M440,101.6h1.2M448.9,110.5v-1.2M440,99.4h1.2M451.1,110.5v-1.2M440,97.5h1.2M452.9,110.5v-1.2M440,96.1h1.2M454.4,110.5v-1.2M440,94.8h1.2M455.7,110.5v-1.2M440,93.8h1.2M456.6,110.5v-1.2M440,92.9h1.2M457.6,110.5v-1.2M440,92.0h2.2M458.5,110.5v-2.2M440,86.5h1.2M464.1,110.5v-1.2M440,83.1h1.2M467.4,110.5v-1.2M440,80.9h1.2M469.6,110.5v-1.2M440,79.0h1.2M471.4,110.5v-1.2M440,77.6h1.2M472.9,110.5v-1.2M440,76.3h1.2M474.2,110.5v-1.2M440,75.3h1.2M475.1,110.5v-1.2M440,74.4h1.2M476.1,110.5v-1.2M440,73.5h2.2M477.0,110.5v-2.2M440,68.0h1.2M482.6,110.5v-1.2M440,64.6h1.2M485.9,110.5v-1.2M440,62.4h1.2M488.1,110.5v-1.2M440,60.5h1.2M489.9,110.5v-1.2M440,59.1h1.2M491.4,110.5v-1.2M440,57.8h1.2M492.7,110.5v-1.2M440,56.8h1.2M493.6,110.5v-1.2M440,55.9h1.2M494.6,110.5v-1.2M440,55.0h2.2M495.5,110.5v-2.2M440,49.5h1.2M501.1,110.5v-1.2M440,46.1h1.2M504.4,110.5v-1.2M440,43.9h1.2M506.6,110.5v-1.2M440,42.0h1.2M508.4,110.5v-1.2M440,40.6h1.2M509.9,110.5v-1.2M440,39.3h1.2M511.2,110.5v-1.2M440,38.3h1.2M512.1,110.5v-1.2M440,37.4h1.2M513.1,110.5v-1.2M440,36.5h2.2M514.0,110.5v-2.2" stroke="#222" stroke-width="0.7" fill="none"/>
<path d="M440,36.5V110.5H514" stroke="#1a1a1a" stroke-width="1" fill="none"/>
<text class="tk" x="439.2" y="112.7" text-anchor="end">10<tspan dx="-1.5" dy="-2" style="font-size:2.8px">0</tspan></text>
<text class="tk" x="440.6" y="119.1" text-anchor="middle">10<tspan dx="-1.5" dy="-2" style="font-size:2.8px">0</tspan></text>
<text class="tk" x="439.2" y="94.2" text-anchor="end">10<tspan dx="-1.5" dy="-2" style="font-size:2.8px">1</tspan></text>
<text class="tk" x="459.1" y="119.1" text-anchor="middle">10<tspan dx="-1.5" dy="-2" style="font-size:2.8px">1</tspan></text>
<text class="tk" x="439.2" y="75.7" text-anchor="end">10<tspan dx="-1.5" dy="-2" style="font-size:2.8px">2</tspan></text>
<text class="tk" x="477.6" y="119.1" text-anchor="middle">10<tspan dx="-1.5" dy="-2" style="font-size:2.8px">2</tspan></text>
<text class="tk" x="439.2" y="57.2" text-anchor="end">10<tspan dx="-1.5" dy="-2" style="font-size:2.8px">3</tspan></text>
<text class="tk" x="496.1" y="119.1" text-anchor="middle">10<tspan dx="-1.5" dy="-2" style="font-size:2.8px">3</tspan></text>
<text class="tk" x="439.2" y="38.7" text-anchor="end">10<tspan dx="-1.5" dy="-2" style="font-size:2.8px">4</tspan></text>
<text class="tk" x="514.6" y="119.1" text-anchor="middle">10<tspan dx="-1.5" dy="-2" style="font-size:2.8px">4</tspan></text>
<rect class="gate" x="440" y="56.5" width="45.5" height="39.8"/>
<text x="444.4" y="69.9" class="t11" text-anchor="start" >21.9</text>
<text class="t11" transform="translate(73,72.5) rotate(-90)" text-anchor="middle">CD3 PE</text>
<path d="M85,130.5H285M320.5,130.5H508" stroke="#222" stroke-width="1" fill="none"/>
<path d="M514.3,130.5L507.6,127.6V133.4Z" fill="#111"/>
<text x="302.3" y="135" class="t11" text-anchor="middle" style="font-size:11px">CFSE</text>
<text x="98.5" y="164.5" class="t11" text-anchor="start" >Unstimulated</text>
<text x="186.5" y="164.5" class="t11" text-anchor="start" >CD3/CD28</text>
<text x="293.5" y="164.5" class="t11" text-anchor="start" >IL-3</text>
<text x="366.5" y="158.8" class="t11" text-anchor="start" >IL-3 +</text>
<text x="366.5" y="172.2" class="t11" text-anchor="start" >ODN 2006</text>
<text x="465.3" y="158.8" class="t11" text-anchor="start" >IL-3 +</text>
<text x="465.3" y="172.2" class="t11" text-anchor="start" >IL-10</text>
<text x="3.5" y="193.8" class="t11" text-anchor="start" >T cell</text>
<text x="3.5" y="207" class="t11" text-anchor="start" >proliferation</text>
<text x="3.5" y="220.2" class="t11" text-anchor="start" >[%]</text>
<path class="ax" d="M85,189.5V292.5M82,292.5H519"/>
<path class="ax" d="M82,258.5H85M82,224.5H85M82,190.5H85M85,292.5v3"/>
<text x="80" y="296.2" class="t11" text-anchor="end" >0</text>
<text x="80" y="262.2" class="t11" text-anchor="end" >30</text>
<text x="80" y="228.2" class="t11" text-anchor="end" >60</text>
<text x="80" y="194.2" class="t11" text-anchor="end" >90</text>
<rect x="106" y="291.3" width="36.5" height="0.7" fill="#999"/>
<path class="eb" d="M124,291.3V290.8M121.5,290.8h5"/>
<rect x="194.5" y="208.4" width="35.0" height="83.6" fill="#999"/>
<path class="eb" d="M212,208.4V197.5M209.5,197.5h5"/>
<rect x="282.5" y="279.8" width="35.0" height="12.2" fill="#999"/>
<path class="eb" d="M299.5,279.8V272.5M297.0,272.5h5"/>
<rect x="371.5" y="265.9" width="35.0" height="26.1" fill="#999"/>
<path class="eb" d="M388.5,265.9V257.1M386.0,257.1h5"/>
<rect x="462.5" y="280.0" width="35.0" height="12.0" fill="#999"/>
<path class="eb" d="M479.5,280.0V275.5M477.0,275.5h5"/>
<path class="br" d="M302.5,244 C302.5,239.66 306.70,237 314.5,237 L376.5,237 C384.30,237 388.5,239.66 388.5,244"/>
<text class="t11" x="343.5" y="229.4" text-anchor="middle">* <tspan font-style="italic">P</tspan> &lt; .02</text>
<path class="br" d="M96.3,297 C96.3,301.71 101.55,304.6 111.3,304.6 L162.3,304.6 C168.15,304.6 171.3,307.17 171.3,310.3 C171.3,307.17 174.45,304.6 180.3,304.6 L231,304.6 C240.75,304.6 246,301.71 246,297"/>
<path class="br" d="M270,297.5 C270,301.78 275.25,304.4 285,304.4 L379.7,304.4 C385.55,304.4 388.7,307.06 388.7,310.3 C388.7,307.06 391.85,304.4 397.7,304.4 L493.3,304.4 C503.05,304.4 508.3,301.78 508.3,297.5"/>
<text x="169.2" y="329" class="t11" text-anchor="middle" >T cells alone</text>
<text x="397" y="329" class="t11" text-anchor="middle" >T cells + allogeneic pDC</text>
<path class="ax" d="M170,368V524.5M167,524.5H444.5"/>
<path class="ax" d="M167,493.3H170M167,462.1H170M167,430.9H170M167,399.7H170M167,368.5H170"/>
<text x="164" y="528.6" class="t11" text-anchor="end" >0</text>
<text x="164" y="497.4" class="t11" text-anchor="end" >5</text>
<text x="164" y="466.2" class="t11" text-anchor="end" >10</text>
<text x="164" y="435.0" class="t11" text-anchor="end" >15</text>
<text x="164" y="403.8" class="t11" text-anchor="end" >20</text>
<text x="164" y="372.6" class="t11" text-anchor="end" >25</text>
<text class="t11" x="79.5" y="372.6">CD4<tspan dy="-3.5" font-size="7">+</tspan><tspan dy="3.5"> T cell</tspan></text>
<text x="79.5" y="385.90000000000003" class="t11" text-anchor="start" >proliferation</text>
<text x="79.5" y="399.20000000000005" class="t11" text-anchor="start" >[%]</text>
<rect x="184.5" y="505.0" width="20.5" height="19.0" fill="#c9c9c9" stroke="#8a8a8a" stroke-width="0.8"/>
<path class="ebg" d="M194.75,505.0V497.5M193.25,497.5h3"/>
<rect x="205.0" y="502.5" width="20.5" height="21.5" fill="#8c8c8c" stroke="#5c5c5c" stroke-width="0.8"/>
<path class="ebg" d="M215.25,502.5V490.0M213.75,490.0h3"/>
<rect x="225.5" y="521.3" width="20.5" height="2.7" fill="#ffffff" stroke="#555" stroke-width="0.8"/>
<path class="ebg" d="M235.75,521.3V520.6M234.25,520.6h3"/>
<rect x="276.5" y="404.0" width="20.5" height="120.0" fill="#c9c9c9" stroke="#8a8a8a" stroke-width="0.8"/>
<path class="ebg" d="M286.75,404.0V397.0M285.25,397.0h3"/>
<rect x="297.0" y="431.2" width="20.5" height="92.8" fill="#8c8c8c" stroke="#5c5c5c" stroke-width="0.8"/>
<path class="ebg" d="M307.25,431.2V400.0M305.75,400.0h3"/>
<rect x="317.5" y="518.8" width="20.5" height="5.2" fill="#ffffff" stroke="#555" stroke-width="0.8"/>
<path class="ebg" d="M327.75,518.8V516.3M326.25,516.3h3"/>
<rect x="367.5" y="491.2" width="20.5" height="32.8" fill="#c9c9c9" stroke="#8a8a8a" stroke-width="0.8"/>
<path class="ebg" d="M377.75,491.2V470.5M376.25,470.5h3"/>
<rect x="388.0" y="516.3" width="20.5" height="7.7" fill="#8c8c8c" stroke="#5c5c5c" stroke-width="0.8"/>
<path class="ebg" d="M398.25,516.3V510.8M396.75,510.8h3"/>
<rect x="408.5" y="523.4" width="20.5" height="0.6" fill="#ffffff" stroke="#555" stroke-width="0.8"/>
<path class="br" d="M195.5,374 C195.5,370.28 199.35,368 206.5,368 L277.8,368 C283.65,368 286.8,371.15 286.8,375 C286.8,371.15 289.95,368 295.8,368 L365.5,368 C372.65,368 376.5,370.28 376.5,374"/>
<path class="br" d="M217,393.8 C217,389.89 220.85,387.5 228,387.5 L298.5,387.5 C304.35,387.5 307.5,390.79 307.5,394.8 C307.5,390.79 310.65,387.5 316.5,387.5 L386.5,387.5 C393.65,387.5 397.5,389.89 397.5,393.8"/>
<text class="t11" x="242" y="361.7" text-anchor="middle">** <tspan font-style="italic">P</tspan> &lt; .00003</text>
<text class="t11" x="334.5" y="361.7" text-anchor="middle">** <tspan font-style="italic">P</tspan> &lt; .004</text>
<text class="t11" x="253.5" y="382.4" text-anchor="middle">* <tspan font-style="italic">P</tspan> &lt; .04</text>
<text class="t11" x="349" y="382.4" text-anchor="middle">* <tspan font-style="italic">P</tspan> &lt; .04</text>
<text x="214" y="543.2" class="t11" text-anchor="middle" >No antibody</text>
<text x="306.5" y="543.2" class="t11" text-anchor="middle" >Anti-GrB</text>
<text x="399" y="543.2" class="t11" text-anchor="middle" >Control antibody</text>
<path class="ax" d="M170,656.7V812.5M167,812.5H444.5"/>
<path class="ax" d="M167,781.4H170M167,750.4H170M167,719.3H170M167,688.3H170M167,657.2H170"/>
<text x="164" y="816.6" class="t11" text-anchor="end" >0</text>
<text x="164" y="785.5" class="t11" text-anchor="end" >10</text>
<text x="164" y="754.5" class="t11" text-anchor="end" >20</text>
<text x="164" y="723.4" class="t11" text-anchor="end" >30</text>
<text x="164" y="692.4" class="t11" text-anchor="end" >40</text>
<text x="164" y="661.3" class="t11" text-anchor="end" >50</text>
<text class="t11" x="79.5" y="661.3">CD8<tspan dy="-3.5" font-size="7">+</tspan><tspan dy="3.5"> T cell</tspan></text>
<text x="79.5" y="674.5999999999999" class="t11" text-anchor="start" >proliferation</text>
<text x="79.5" y="687.9" class="t11" text-anchor="start" >[%]</text>
<rect x="184.5" y="808.6" width="20.5" height="3.4" fill="#c9c9c9" stroke="#8a8a8a" stroke-width="0.8"/>
<path class="ebg" d="M194.75,808.6V806.7M193.25,806.7h3"/>
<rect x="205.0" y="808.4" width="20.5" height="3.6" fill="#8c8c8c" stroke="#5c5c5c" stroke-width="0.8"/>
<path class="ebg" d="M215.25,808.4V807.8M213.75,807.8h3"/>
<rect x="225.5" y="811.2" width="20.5" height="0.8" fill="#ffffff" stroke="#555" stroke-width="0.8"/>
<rect x="276.5" y="677.5" width="20.5" height="134.5" fill="#c9c9c9" stroke="#8a8a8a" stroke-width="0.8"/>
<path class="ebg" d="M286.75,677.5V672.5M285.25,672.5h3"/>
<rect x="297.0" y="718.3" width="20.5" height="93.7" fill="#8c8c8c" stroke="#5c5c5c" stroke-width="0.8"/>
<path class="ebg" d="M307.25,718.3V683.8M305.75,683.8h3"/>
<rect x="317.5" y="807.8" width="20.5" height="4.2" fill="#ffffff" stroke="#555" stroke-width="0.8"/>
<path class="ebg" d="M327.75,807.8V804.7M326.25,804.7h3"/>
<rect x="367.5" y="799.7" width="20.5" height="12.3" fill="#c9c9c9" stroke="#8a8a8a" stroke-width="0.8"/>
<path class="ebg" d="M377.75,799.7V793.0M376.25,793.0h3"/>
<rect x="388.0" y="797.0" width="20.5" height="15.0" fill="#8c8c8c" stroke="#5c5c5c" stroke-width="0.8"/>
<path class="ebg" d="M398.25,797.0V785.7M396.75,785.7h3"/>
<rect x="408.5" y="811.4" width="20.5" height="0.6" fill="#ffffff" stroke="#555" stroke-width="0.8"/>
<path class="br" d="M195.5,643.8 C195.5,640.08 199.35,637.8 206.5,637.8 L277.8,637.8 C283.65,637.8 286.8,640.95 286.8,644.8 C286.8,640.95 289.95,637.8 295.8,637.8 L365.5,637.8 C372.65,637.8 376.5,640.08 376.5,643.8"/>
<path class="br" d="M217,663.8 C217,659.89 220.85,657.5 228,657.5 L298.5,657.5 C304.35,657.5 307.5,660.78 307.5,664.8 C307.5,660.78 310.65,657.5 316.5,657.5 L386.5,657.5 C393.65,657.5 397.5,659.89 397.5,663.8"/>
<text class="t11" x="242" y="632.5" text-anchor="middle">** <tspan font-style="italic">P</tspan> &lt; .0000002</text>
<text class="t11" x="331.5" y="632.5" text-anchor="middle">** <tspan font-style="italic">P</tspan> &lt; .000003</text>
<text class="t11" x="257.5" y="653.7" text-anchor="middle">* <tspan font-style="italic">P</tspan> &lt; .02</text>
<text class="t11" x="351.5" y="653.7" text-anchor="middle">* <tspan font-style="italic">P</tspan> &lt; .03</text>
<text x="214" y="831.5" class="t11" text-anchor="middle" >No antibody</text>
<text x="306.5" y="831.5" class="t11" text-anchor="middle" >Anti-GrB</text>
<text x="399" y="831.5" class="t11" text-anchor="middle" >Control antibody</text>
<rect x="89.5" y="549" width="83" height="77" fill="#fff" stroke="#4a4a4a" stroke-width="1"/>
<rect x="96.5" y="559.5" width="13" height="14.5" fill="#c9c9c9" stroke="#7a7a7a" stroke-width="1"/>
<rect x="96.5" y="579.5" width="13" height="14.5" fill="#8c8c8c" stroke="#555" stroke-width="1"/>
<rect x="96.5" y="600" width="13" height="14.5" fill="#fff" stroke="#aaa" stroke-width="1"/>
<text x="116" y="570.6" class="t11" text-anchor="start" style="font-size:11px">IL-3</text>
<text x="116" y="591.3" class="t11" text-anchor="start" style="font-size:11px">IL-3+IL-10</text>
<text x="116" y="611" class="t11" text-anchor="start" style="font-size:11px">no pDCs</text>
</svg></body></html>
